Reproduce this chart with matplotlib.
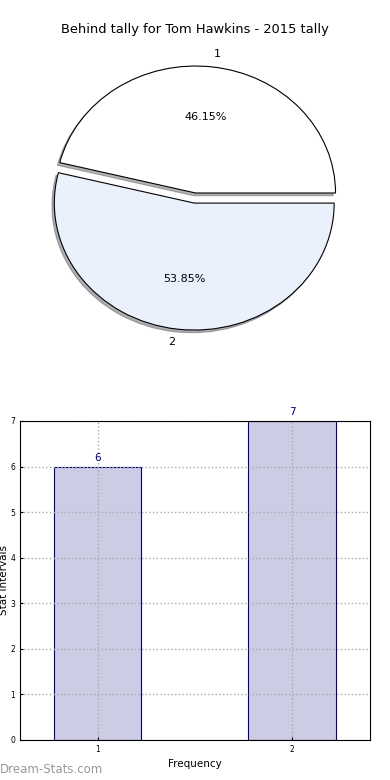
import matplotlib.pyplot as plt

# pie data
pie_labels = ['1', '2']
pie_values = [6, 7]
pie_colors = ['#ffffff', '#eaf1fd']

# bar data
bar_positions = [1, 2]
bar_values = [6, 7]
bar_ticks = ['1', '2']

fig = plt.figure(figsize=(3.9, 7.8), dpi=100)

# top: exploded pie with shadow
ax1 = fig.add_axes([0.0513, 0.5426, 0.897, 0.407])
wedges, texts, autotexts = ax1.pie(pie_values, labels=pie_labels, colors=pie_colors,
                                   explode=[0.04, 0.04],
                                   shadow={'ox': -0.012, 'oy': -0.015, 'shade': 0.6},
                                   startangle=0, autopct='%1.2f%%',
                                   wedgeprops={'edgecolor': 'black', 'linewidth': 0.8},
                                   textprops={'fontsize': 8})
ax1.set_aspect('auto')
ax1.set_xlim(-1.25, 1.25)
ax1.set_ylim(-1.25, 1.25)
fig.text(0.5, 0.962, 'Behind tally for Tom Hawkins - 2015 tally', ha='center', va='center', fontsize=9.4)

# bottom: bar chart
ax2 = fig.add_axes([0.0513, 0.0513, 0.897, 0.409])
bars = ax2.bar(bar_positions, bar_values, width=0.45, color='#ccccE5', edgecolor='#000080', linewidth=0.8)
for x, v in zip(bar_positions, bar_values):
    ax2.text(x, v + 0.08, str(v), ha='center', va='bottom', color='#000080', fontsize=7.5)
ax2.set_xlim(0.6, 2.4)
ax2.set_ylim(0, 7)
ax2.set_xticks(bar_positions)
ax2.set_xticklabels(bar_ticks)
ax2.set_yticks(range(0, 8))
ax2.tick_params(labelsize=5.5, length=2, direction='in')
ax2.grid(True, linestyle=':', color='#aaaaaa', linewidth=1)
ax2.set_axisbelow(False)
for sp in ax2.spines.values():
    sp.set_zorder(5)
ax2.set_xlabel('Frequency', fontsize=7.5, labelpad=4)
ax2.set_ylabel('Stat Intervals', fontsize=7.5, labelpad=1)

fig.text(0.0, 0.013, 'Dream-Stats.com', color='#999999', fontsize=8.5, ha='left', va='center')

plt.savefig('out.png', dpi=100)
